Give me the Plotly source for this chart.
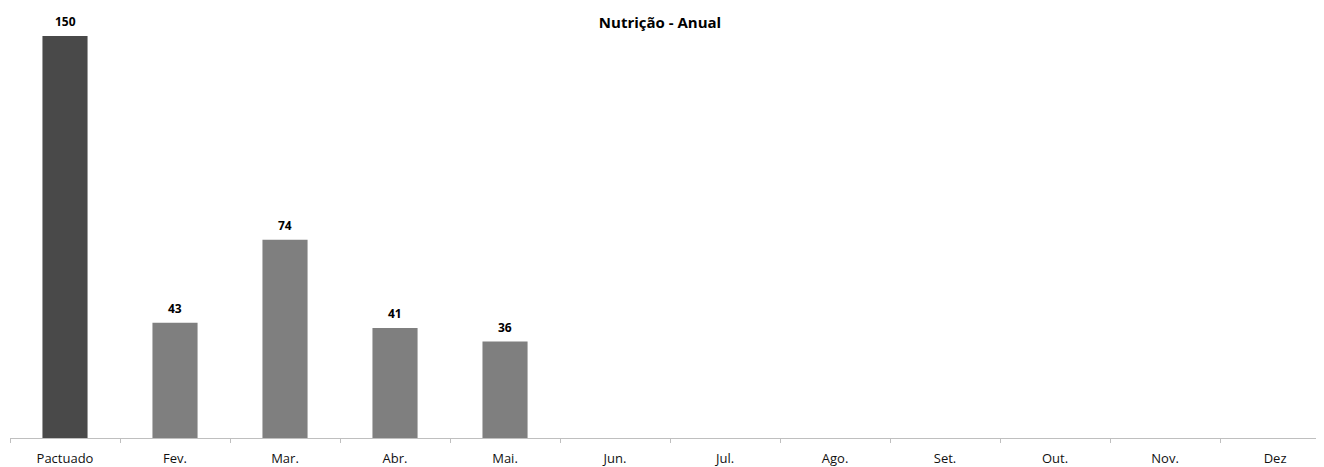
import plotly.graph_objects as go

categories = ["Pactuado", "Fev.", "Mar.", "Abr.", "Mai.", "Jun.", "Jul.", "Ago.", "Set.", "Out.", "Nov.", "Dez"]
values = [150, 43, 74, 41, 36, None, None, None, None, None, None, None]
title_text = "Nutrição - Anual"

colors = ["#494949"] + ["#7f7f7f"] * (len(categories) - 1)
FONT = "Open Sans, Lato, sans-serif"

# page body has an 8px margin; figure sized to compensate
W, H = 1316, 459

fig = go.Figure()
fig.add_trace(go.Bar(
    x=categories, y=values, marker_color=colors, marker_line_width=0,
    width=0.41, cliponaxis=False, hoverinfo="skip",
))

for c, v in zip(categories, values):
    if v is not None:
        fig.add_annotation(x=c, y=v, text=f"<b>{v}</b>", showarrow=False,
                           yanchor="bottom", yshift=4,
                           font=dict(family=FONT, size=12, color="#000"))

fig.update_layout(
    width=W, height=H,
    margin=dict(l=2, r=0, t=2, b=29),
    paper_bgcolor="white", plot_bgcolor="white",
    showlegend=False,
    title=dict(text=f"<b>{title_text}</b>", x=(660 - 8) / W, xref="container", xanchor="center",
               y=1 - 15 / H, yref="container", yanchor="middle",
               font=dict(family=FONT, size=15, color="#000")),
    xaxis=dict(range=[-0.5, 11.445], showgrid=False, showline=True, linecolor="#bfbfbf", linewidth=1,
               ticks="outside", tickson="boundaries", ticklen=4, tickcolor="#bfbfbf",
               ticklabelstandoff=8, automargin=False,
               tickfont=dict(family=FONT, size=13, color="#111"),
               fixedrange=True),
    yaxis=dict(range=[0, 159.7], visible=False, showgrid=False, zeroline=False),
)

fig.write_html("out.html")
